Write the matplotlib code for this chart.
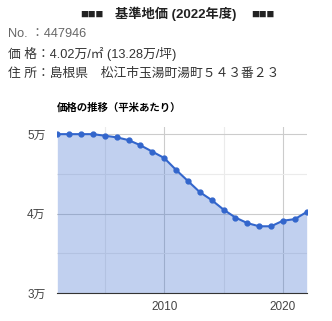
import numpy as np
import matplotlib.pyplot as plt
from matplotlib.ticker import FixedLocator, FuncFormatter

plt.rcParams['font.family'] = ['Liberation Sans', 'Noto Sans CJK JP', 'DejaVu Sans']

# 年と基準地価（万円/㎡）
years = [2001, 2002, 2003, 2004, 2005, 2006, 2007, 2008, 2009, 2010, 2011,
         2012, 2013, 2014, 2015, 2016, 2017, 2018, 2019, 2020, 2021, 2022]
prices = [5.00, 5.00, 5.00, 5.00, 4.98, 4.96, 4.925, 4.86, 4.78, 4.70, 4.55,
          4.41, 4.27, 4.17, 4.05, 3.95, 3.88, 3.84, 3.84, 3.91, 3.93, 4.02]

title = '基準地価 (2022年度)'
marks = '■■■'
info_no = 'No. ：447946'
info_price = '価 格：4.02万/㎡ (13.28万/坪)'
info_addr = '住 所：島根県　松江市玉湯町湯町５４３番２３'
chart_title = '価格の推移（平米あたり）'
y_ticks = [3, 4, 5]
x_ticks = [2010, 2020]

fig = plt.figure(figsize=(3.32, 3.21), dpi=100)

fig.text(176/332, 1-14/321, title, ha='center', va='center', fontsize=9.5,
         fontweight='bold', color='#222222')
fig.text(92/332, 1-15/321, marks, ha='center', va='center', fontsize=5.6,
         color='#222222', family=['Noto Sans CJK JP'])
fig.text(262.5/332, 1-15/321, marks, ha='center', va='center', fontsize=5.6,
         color='#222222', family=['Noto Sans CJK JP'])
fig.text(8/332, 1-34/321, info_no, ha='left', va='center', fontsize=9.2, color='#666666')
fig.text(8/332, 1-54/321, info_price, ha='left', va='center', fontsize=9.2, color='#333333')
fig.text(8/332, 1-74/321, info_addr, ha='left', va='center', fontsize=9.2, color='#333333')
fig.text(57/332, 1-108/321, chart_title, ha='left', va='center', fontsize=7.5,
         fontweight='bold', color='#000000')

ax = fig.add_axes([57.3/332, 1-293/321, 249.4/332, 166/321])
ax.fill_between(years, prices, 3, color='#3366cc', alpha=0.3, linewidth=0, zorder=2)
ax.plot(years, prices, color='#3366cc', linewidth=1.5, marker='o', markersize=3.5, zorder=3)

ax.set_xlim(2001, 2022)
ax.set_ylim(3, 5.09)

ax.yaxis.set_major_locator(FixedLocator(y_ticks))
ax.yaxis.set_minor_locator(FixedLocator([3.5, 4.5]))
ax.yaxis.set_major_formatter(FuncFormatter(lambda v, p: '%d万' % v))
ax.xaxis.set_major_locator(FixedLocator(x_ticks))
ax.xaxis.set_minor_locator(FixedLocator([2005, 2015]))

ax.grid(True, which='major', color='#cccccc', linewidth=0.8, zorder=1)
ax.grid(True, which='minor', color='#ebebeb', linewidth=0.8, zorder=1)
ax.set_axisbelow(True)

for s in ['top', 'right', 'left']:
    ax.spines[s].set_visible(False)
ax.spines['bottom'].set_color('#333333')
ax.spines['bottom'].set_linewidth(0.8)

ax.tick_params(axis='both', which='both', length=0, labelsize=8.5, colors='#444444')
ax.tick_params(axis='y', pad=8.5)
ax.tick_params(axis='x', pad=6)

fig.savefig('out.png', dpi=100)
